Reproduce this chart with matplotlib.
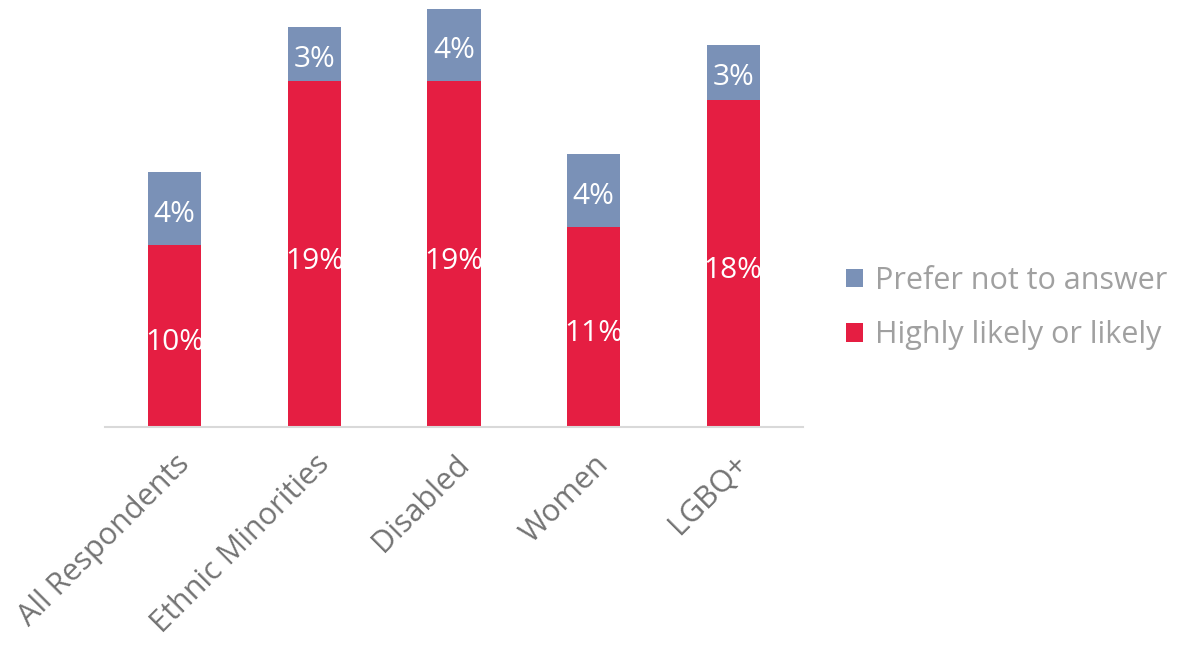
import numpy as np
import matplotlib.pyplot as plt

# ---- DATA ----
groups   = ['All Respondents', 'Ethnic Minorities', 'Disabled', 'Women', 'LGBQ+']
likely   = [10, 19, 19, 11, 18]   # Highly likely or likely (%)
no_answer = [4, 3, 4, 4, 3]       # Prefer not to answer (%)

RED   = '#E51E42'
BLUE  = '#7A91B7'
plt.rcParams['font.family'] = ['Open Sans', 'DejaVu Sans']

fig = plt.figure(figsize=(11.78, 6.48), dpi=100)
ax = fig.add_axes([105 / 1178, 221 / 648, 698 / 1178, 422 / 648])

x = np.arange(len(groups))
w = 0.38
b1 = ax.bar(x, likely, w, color=RED, label='Highly likely or likely')
b2 = ax.bar(x, no_answer, w, bottom=likely, color=BLUE, label='Prefer not to answer')

# segment labels, nudged a little below centre
for i in range(len(groups)):
    ax.annotate(f'{likely[i]}%', (x[i], likely[i] / 2), xytext=(0, -5),
                textcoords='offset points', ha='center', va='center',
                color='white', fontsize=21.5)
    ax.annotate(f'{no_answer[i]}%', (x[i], likely[i] + no_answer[i] / 2),
                xytext=(0, -4), textcoords='offset points', ha='center',
                va='center', color='white', fontsize=21.5)

ax.set_xlim(-0.5, 4.5)
ax.set_ylim(0, 23.2)
ax.set_yticks([])
for s in ['top', 'right', 'left']:
    ax.spines[s].set_visible(False)
ax.spines['bottom'].set_color('#D9D9D9')
ax.spines['bottom'].set_linewidth(1.5)
ax.set_xticks(x)
ax.set_xticklabels(groups, rotation=45, ha='right', rotation_mode='anchor',
                   fontsize=22, color='#737373')
ax.tick_params(axis='x', length=0, pad=16)

handles = [b2, b1]
leg = fig.legend(handles, [h.get_label() for h in handles], loc='center left',
                 bbox_to_anchor=(846 / 1178, 1 - 308 / 648), frameon=False,
                 fontsize=22, handlelength=0.55, handleheight=0.55,
                 handletextpad=0.4, labelspacing=0.8,
                 borderpad=0, borderaxespad=0)
for t in leg.get_texts():
    t.set_color('#A0A0A0')

plt.savefig('out.png', dpi=100)
